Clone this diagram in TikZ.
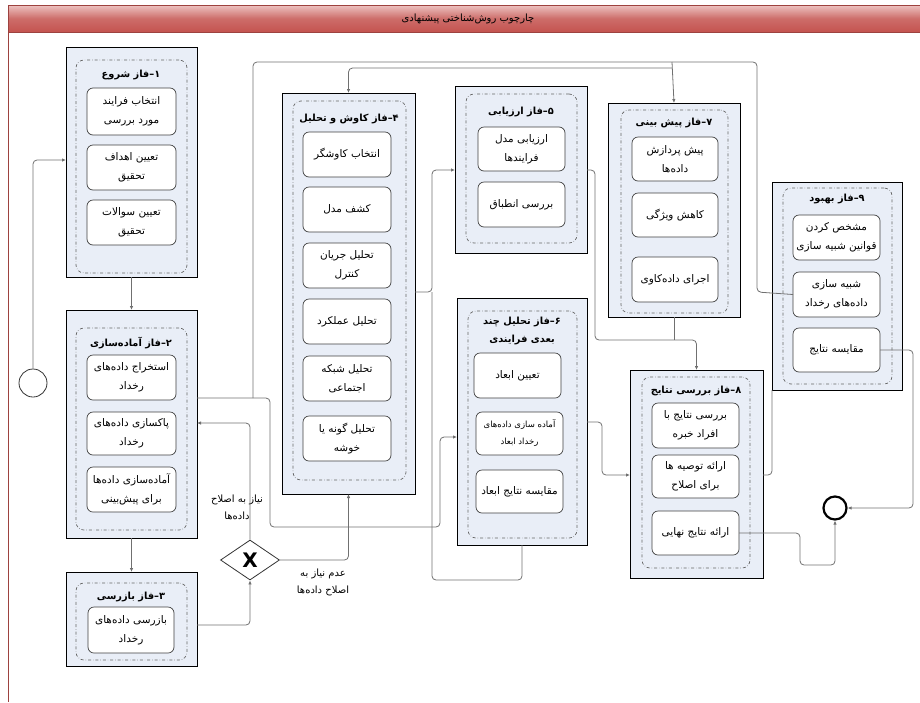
\documentclass[tikz,border=0pt]{standalone}
\usepackage{fontspec}
\newfontfamily\fa[Script=Arabic]{DejaVu Sans}
\TeXXeTstate=1
\usetikzlibrary{arrows.meta,shapes.geometric}
\definecolor{phasefill}{HTML}{E9EEF7}
\definecolor{conn}{HTML}{707070}
\definecolor{barred}{HTML}{C4534F}
\definecolor{barlight}{HTML}{EDC3C1}
\newcommand\rl[1]{\beginR #1\endR}
\newcommand\bx[7]{\node[#2, minimum width={#5pt-#3pt}, minimum height={#6pt-#4pt}] (#1) at ({(#3+#5)/2},{(#4+#6)/2}) {#7};}
\tikzset{
  phase/.style={draw=black, fill=phasefill, line width=0.8pt, inner sep=0pt, outer sep=0pt},
  grp/.style={draw=black!60, dash dot, rounded corners=8pt, line width=0.7pt, inner sep=0pt},
  task/.style={draw=black!75, fill=white, rounded corners=6pt, line width=0.7pt, inner sep=0pt, outer sep=0pt, align=center, font=\fa\fontsize{10.5}{19}\selectfont},
  small/.style={font=\fa\fontsize{8.5}{17}\selectfont},
  ttl/.style={font=\fa\bfseries\fontsize{9.8}{18}\selectfont, align=center, inner sep=0pt},
  lbl/.style={font=\fa\fontsize{10}{17}\selectfont, align=center, inner sep=0pt},
  line/.style={draw=conn, line width=0.8pt, rounded corners=4pt},
  arr/.style={line, -{Latex[length=4pt,width=3.5pt]}},
}
\begin{document}
\begin{tikzpicture}[x=1pt,y=-1pt]
\useasboundingbox (0,0) rectangle (920,702);
% title bar and frame
\shade[top color=barlight, bottom color=barred, middle color=barred!85] (8,5) rectangle (920,32);
\draw[barred!80!black, line width=0.6pt] (920,5) -- (8,5) -- (8,702);
\draw[barred!80!black, line width=0.4pt] (8,32) -- (920,32);
\node[font=\fa\fontsize{10}{11}\selectfont, inner sep=0pt] (title) at (468,19) {\rl{چارچوب روش‌شناختی پیشنهادی}};

% phase 1
\bx{p1}{phase}{66}{47}{197}{277}{}
\bx{g1}{grp}{76}{60}{187}{273}{}
\node[ttl] (t1) at (131,75) {\rl{۱–فاز شروع}};
\bx{k1a}{task}{87}{88}{176}{135}{\rl{انتخاب فرایند}\\\rl{مورد بررسی}}
\bx{k1b}{task}{87}{145}{176}{190}{\rl{تعیین اهداف}\\\rl{تحقیق}}
\bx{k1c}{task}{87}{200}{176}{245}{\rl{تعیین سوالات}\\\rl{تحقیق}}

% phase 2
\bx{p2}{phase}{66}{310}{197}{538}{}
\bx{g2}{grp}{76}{328}{187}{530}{}
\node[ttl] (t2) at (131,343) {\rl{۲–فاز آماده‌سازی}};
\bx{k2a}{task}{87}{355}{176}{400}{\rl{استخراج داده‌های}\\\rl{رخداد}}
\bx{k2b}{task}{87}{412}{176}{455}{\rl{پاکسازی داده‌های}\\\rl{رخداد}}
\bx{k2c}{task}{87}{467}{176}{512}{\rl{آماده‌سازی داده‌ها}\\\rl{برای پیش‌بینی}}

% phase 3
\bx{p3}{phase}{66}{572}{197}{666}{}
\bx{g3}{grp}{76}{583}{187}{660}{}
\node[ttl] (t3) at (131,597) {\rl{۳–فاز بازرسی}};
\bx{k3a}{task}{88}{607}{174}{653}{\rl{بازرسی داده‌های}\\\rl{رخداد}}

% phase 4
\bx{p4}{phase}{282}{93}{415}{494}{}
\bx{g4}{grp}{293}{101}{406}{480}{}
\node[ttl] (t4) at (349,119) {\rl{۴–فاز کاوش و تحلیل}};
\bx{k4a}{task}{303}{132}{391}{177}{\rl{انتخاب کاوشگر}}
\bx{k4b}{task}{303}{187}{391}{232}{\rl{کشف مدل}}
\bx{k4c}{task}{303}{243}{391}{288}{\rl{تحلیل جریان}\\\rl{کنترل}}
\bx{k4d}{task}{303}{299}{391}{344}{\rl{تحلیل عملکرد}}
\bx{k4e}{task}{303}{356}{391}{401}{\rl{تحلیل شبکه}\\\rl{اجتماعی}}
\bx{k4f}{task}{303}{416}{391}{461}{\rl{تحلیل گونه یا}\\\rl{خوشه}}

% phase 5
\bx{p5}{phase}{455}{86}{587}{253}{}
\bx{g5}{grp}{466}{94}{577}{243}{}
\node[ttl] (t5) at (521,112) {\rl{۵–فاز ارزیابی}};
\bx{k5a}{task}{478}{127}{565}{171}{\rl{ارزیابی مدل}\\\rl{فرایندها}}
\bx{k5b}{task}{478}{182}{565}{227}{\rl{بررسی انطباق}}

% phase 6
\bx{p6}{phase}{457}{298}{587}{545}{}
\bx{g6}{grp}{468}{311}{577}{538}{}
\node[ttl] (t6) at (522,331) {\rl{۶–فاز تحلیل چند}\\\rl{بعدی فرایندی}};
\bx{k6a}{task}{474}{353}{561}{398}{\rl{تعیین ابعاد}}
\bx{k6b}{task,small}{476}{412}{563}{455}{\rl{آماده سازی داده‌های}\\\rl{رخداد ابعاد}}
\bx{k6c}{task}{476}{470}{563}{513}{\rl{مقایسه نتایج ابعاد}}

% phase 7
\bx{p7}{phase}{608}{103}{740}{317}{}
\bx{g7}{grp}{621}{110}{728}{313}{}
\node[ttl] (t7) at (674,123) {\rl{۷–فاز پیش بینی}};
\bx{k7a}{task}{632}{137}{718}{181}{\rl{پیش پردازش}\\\rl{داده‌ها}}
\bx{k7b}{task}{632}{193}{718}{237}{\rl{کاهش ویژگی}}
\bx{k7c}{task}{632}{257}{718}{302}{\rl{اجرای داده‌کاوی}}

% phase 8
\bx{p8}{phase}{630}{370}{763}{578}{}
\bx{g8}{grp}{642}{377}{750}{568}{}
\node[ttl] (t8) at (696,391) {\rl{۸–فاز بررسی نتایج}};
\bx{k8a}{task}{652}{403}{739}{448}{\rl{بررسی نتایج با}\\\rl{افراد خبره}}
\bx{k8b}{task}{652}{455}{739}{498}{\rl{ارائه توصیه ها}\\\rl{برای اصلاح}}
\bx{k8c}{task}{652}{511}{739}{555}{\rl{ارائه نتایج نهایی}}

% phase 9
\bx{p9}{phase}{772}{182}{902}{390}{}
\bx{g9}{grp}{783}{188}{892}{384}{}
\node[ttl] (t9) at (837,199) {\rl{۹–فاز بهبود}};
\bx{k9a}{task}{793}{215}{880}{260}{\rl{مشخص کردن}\\\rl{قوانین شبیه سازی}}
\bx{k9b}{task}{793}{272}{880}{317}{\rl{شبیه سازی}\\\rl{داده‌های رخداد}}
\bx{k9c}{task}{793}{328}{880}{372}{\rl{مقایسه نتایج}}

% events and gateway
\node[circle, draw=black!80, line width=0.8pt, minimum size=28pt, inner sep=0pt] (start) at (33,383) {};
\node[circle, draw=black, line width=2.2pt, minimum size=23pt, inner sep=0pt] (end) at (835,508) {};
\node[diamond, draw=black!80, fill=white, line width=0.8pt, minimum width=59pt, minimum height=40pt, inner sep=0pt, font=\fa\bfseries\fontsize{20}{20}\selectfont] (gw) at (250,560) {X};
\node[lbl] (l1) at (237,507) {\rl{نیاز به اصلاح}\\\rl{داده‌ها}};
\node[lbl] (l2) at (323,582) {\rl{عدم نیاز به}\\\rl{اصلاح داده‌ها}};

% connectors
\coordinate (top1) at (672,62);
\coordinate (top2) at (672,68);
\draw[arr] (start.north) |- (p1.west |- 0,160);
\draw[arr] (p1.south) -- (p2.north);
\draw[arr] (p2.south) -- (p3.north);
\draw[arr] (p3.east |- 0,625) -| (gw.south);
\draw[arr] (gw.north) |- (p2.east |- 0,423);
\draw[arr] (gw.east) -| (p4.south);
\draw[arr] (p2.east |- 0,398) -- (270,398) -- (270,527) -- (440,527) -- (440,437) -- (p6.west |- 0,437);
\draw[arr] (p4.east |- 0,292) -- (432,292) |- (p5.west |- 0,170);
\draw[line] (p6.south) |- (432,580) -- (432,292);
\draw[arr] (p5.east |- 0,170) -- (595,170) -- (595,340) -| (p8.north);
\draw[line] (p7.south) -- (674,340);
\draw[arr] (p6.east |- 0,422) -- (602,422) -- (602,475) -- (p8.west |- 0,475);
\draw[line] (p8.east |- 0,475) -- (772,475) -- (p9.south west);
\draw[line] (k9b.west) -- (757,292) -- (757,62) -- (253,62) -- (253,398);
\draw[arr] (top1) -- (p7.north);
\draw[arr] (top2) -| (p4.north);
\draw[arr] (k8c.east) -- (800,533) -- (800,565) -| (end.south);
\draw[arr] (k9c.east) -- (913,350) -- (913,508) -- (end.east);
\end{tikzpicture}
\end{document}
